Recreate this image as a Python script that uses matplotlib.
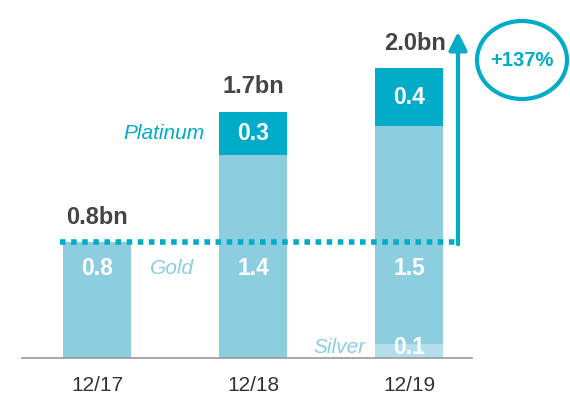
import matplotlib
matplotlib.use("Agg")
import matplotlib.pyplot as plt
from matplotlib.patches import Ellipse
import numpy as np

plt.rcParams.update({
    "font.family": ["Liberation Sans", "DejaVu Sans"],
    "font.size": 15,
})

# ── data ──────────────────────────────────────────────────────────────────────
periods  = ["12/17", "12/18", "12/19"]
silver   = [0.0, 0.0, 0.1]
gold     = [0.8, 1.4, 1.5]
platinum = [0.0, 0.3, 0.4]
totals   = ["0.8bn", "1.7bn", "2.0bn"]
growth   = "+137%"

# ── colours ───────────────────────────────────────────────────────────────────
C_GOLD   = "#8dcde0"
C_PLAT   = "#00acc8"
C_SILVER = "#b3deea"
C_TEXT   = "#454545"
C_AXIS   = "#9a9a9a"

fig = plt.figure(figsize=(5.70, 4.04), dpi=100)
ax = fig.add_axes([0, 0, 1, 1])
ax.set_xlim(-97 / 156, (570 - 97) / 156)
ax.set_ylim(-(404 - 358) / 145, 358 / 145)
ax.axis("off")

x = np.arange(len(periods))
w = 0.44
silver = np.array(silver)
gold = np.array(gold)
platinum = np.array(platinum)

ax.bar(x, silver, w, color=C_SILVER, zorder=2)
ax.bar(x, gold, w, bottom=silver, color=C_GOLD, zorder=2)
ax.bar(x, platinum, w, bottom=silver + gold, color=C_PLAT, zorder=2)

# baseline
ax.axhline(0, xmin=22 / 570, xmax=472 / 570, color=C_AXIS, lw=1.2, zorder=3)

lab = dict(color="white", fontweight="bold", ha="center", va="center",
           fontsize=16.5, zorder=5)
for i in range(len(x)):
    ax.text(x[i], 0.62, f"{gold[i]:.1f}", **lab)
    if platinum[i] > 0:
        ax.text(x[i], silver[i] + gold[i] + platinum[i] / 2, f"{platinum[i]:.1f}", **lab)
    if silver[i] > 0:
        ax.text(x[i], silver[i] / 2 + 0.02, f"{silver[i]:.1f}", **lab)
    top = silver[i] + gold[i] + platinum[i]
    ax.text(x[i] + (0.04 if i == 2 else 0), top + 0.17, totals[i], color=C_TEXT,
            fontweight="bold", ha="center", va="center", fontsize=17)
    ax.text(x[i], -0.19, periods[i], color="#333333", ha="center", va="center", fontsize=15)

# segment names
ax.text(0.69, silver[1] + gold[1] + platinum[1] / 2, "Platinum", color=C_PLAT,
        style="italic", ha="right", va="center", fontsize=15)
ax.text(0.48, 0.62, "Gold", color=C_GOLD, style="italic", ha="center", va="center", fontsize=15)
ax.text(1.72, silver[2] / 2 + 0.02, "Silver", color=C_GOLD, style="italic",
        ha="right", va="center", fontsize=15)

# dotted reference at 12/17 level, turning into the growth arrow
x_arrow = (458 - 97) / 156
ax.plot([-0.237, x_arrow], [gold[0], gold[0]], color=C_PLAT, lw=4,
        linestyle=(0, (1, 1)), dash_capstyle="butt", zorder=4)
ax.annotate("", xy=(x_arrow, 2.25), xytext=(x_arrow, gold[0] - 0.015),
            arrowprops=dict(arrowstyle="-|>", color=C_PLAT, lw=3,
                            mutation_scale=27, shrinkA=0, shrinkB=0), zorder=4)

# growth badge
ax.add_patch(Ellipse(((522 - 97) / 156, (358 - 60) / 145), 90 / 156, 78 / 145,
                     fill=False, edgecolor=C_PLAT, lw=3, zorder=4))
ax.text((522 - 97) / 156, (358 - 61) / 145, growth, color=C_PLAT, fontweight="bold",
        ha="center", va="center", fontsize=14.5)

fig.savefig("out.png", dpi=100)
